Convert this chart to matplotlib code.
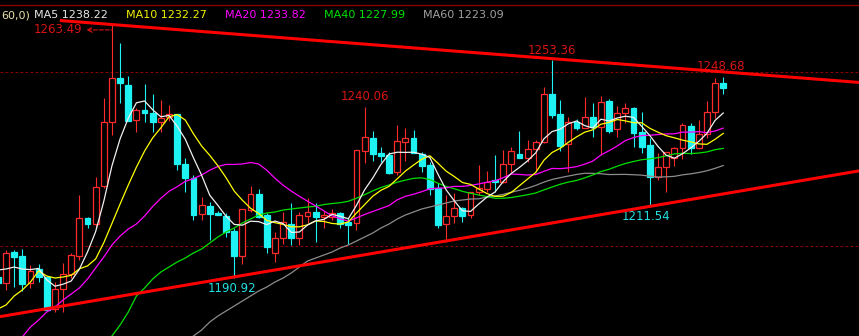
import matplotlib
matplotlib.use('Agg')
import matplotlib.pyplot as plt
from matplotlib.patches import Rectangle

nan = float('nan')

# daily candles, oldest first
opens = [1191.09, 1189.37, 1198.28, 1197.13, 1189.37, 1193.39, 1191.09, 1181.90, 1187.64, 1191.95,
         1197.13, 1208.04, 1206.32, 1217.24, 1235.63, 1248.28, 1246.26, 1236.21, 1239.08, 1238.22,
         1235.63, 1237.07, 1237.93, 1223.56, 1219.54, 1209.20, 1211.49, 1209.48, 1208.62, 1204.31,
         1197.13, 1210.35, 1214.94, 1208.91, 1197.99, 1202.30, 1206.32, 1202.30, 1208.62, 1209.77,
         1208.33, 1208.33, 1209.48, 1206.90, 1206.61, 1227.30, 1231.03, 1226.73, 1226.15, 1221.27,
         1229.89, 1231.03, 1226.44, 1223.28, 1216.67, 1206.32, 1208.62, 1210.92, 1208.91, 1215.52,
         1216.38, 1218.97, 1218.39, 1223.56, 1226.44, 1225.29, 1227.88, 1229.89, 1243.68, 1237.93,
         1229.31, 1235.63, 1233.91, 1237.07, 1234.19, 1241.67, 1233.62, 1238.22, 1239.65, 1232.76,
         1229.02, 1219.83, 1222.70, 1225.29, 1228.16, 1234.48, 1228.16, 1232.18, 1238.51, 1246.84]
highs = [1191.66, 1198.85, 1198.85, 1199.14, 1194.54, 1194.83, 1191.20, 1189.65, 1195.11, 1197.99,
         1214.65, 1208.33, 1219.83, 1242.53, 1263.49, 1258.33, 1248.85, 1239.65, 1246.55, 1243.68,
         1241.95, 1240.52, 1238.00, 1225.29, 1220.40, 1214.08, 1212.64, 1210.06, 1209.48, 1205.17,
         1210.70, 1217.24, 1216.38, 1209.48, 1204.02, 1209.77, 1212.36, 1209.77, 1213.79, 1212.36,
         1210.06, 1210.63, 1209.77, 1208.04, 1227.70, 1240.06, 1233.05, 1228.45, 1227.01, 1234.77,
         1233.91, 1233.33, 1227.01, 1224.14, 1218.10, 1214.65, 1215.23, 1211.21, 1215.60, 1223.28,
         1221.55, 1226.15, 1227.59, 1228.45, 1233.05, 1230.46, 1230.46, 1245.69, 1253.36, 1241.95,
         1237.07, 1236.49, 1242.82, 1241.09, 1243.10, 1242.24, 1240.23, 1241.09, 1239.94, 1238.51,
         1231.03, 1226.73, 1227.10, 1228.45, 1235.34, 1235.34, 1236.21, 1241.67, 1248.28, 1248.68]
lows = [1188.79, 1187.35, 1188.22, 1187.07, 1187.93, 1189.65, 1181.50, 1181.03, 1181.03, 1190.80,
        1195.98, 1205.17, 1205.17, 1216.67, 1231.90, 1241.09, 1235.80, 1232.76, 1235.63, 1232.76,
        1232.76, 1235.92, 1221.84, 1215.52, 1207.47, 1207.47, 1201.72, 1208.80, 1202.59, 1190.92,
        1194.83, 1209.77, 1208.04, 1197.99, 1195.40, 1200.57, 1200.29, 1200.29, 1206.61, 1201.15,
        1205.17, 1207.47, 1205.17, 1200.57, 1204.60, 1223.85, 1224.43, 1224.14, 1220.69, 1220.40,
        1224.43, 1226.60, 1221.27, 1214.65, 1205.17, 1201.15, 1206.61, 1206.90, 1208.04, 1214.65,
        1215.52, 1215.52, 1218.10, 1221.27, 1225.20, 1224.14, 1221.84, 1229.60, 1236.78, 1227.30,
        1221.27, 1233.33, 1233.80, 1231.32, 1226.15, 1232.47, 1231.32, 1235.34, 1228.45, 1226.73,
        1211.54, 1218.97, 1215.52, 1222.99, 1225.00, 1226.44, 1228.00, 1231.03, 1236.78, 1243.68]
closes = [1189.37, 1197.99, 1196.84, 1189.08, 1192.81, 1191.09, 1181.61, 1187.64, 1191.95, 1197.41,
          1208.04, 1206.32, 1216.95, 1235.63, 1248.28, 1246.84, 1235.92, 1239.08, 1238.22, 1235.63,
          1236.78, 1237.93, 1223.56, 1219.54, 1208.91, 1211.78, 1209.20, 1208.91, 1204.02, 1197.13,
          1210.63, 1214.94, 1208.33, 1199.71, 1202.30, 1206.90, 1202.30, 1208.91, 1209.77, 1208.33,
          1208.91, 1209.48, 1206.32, 1206.04, 1227.59, 1231.32, 1226.44, 1225.86, 1220.98, 1230.17,
          1231.03, 1226.73, 1222.99, 1216.38, 1206.04, 1208.62, 1210.92, 1208.62, 1215.52, 1216.67,
          1218.39, 1218.39, 1223.56, 1227.30, 1225.29, 1227.88, 1229.89, 1243.68, 1237.64, 1228.74,
          1235.63, 1233.91, 1237.07, 1234.19, 1241.38, 1233.05, 1238.22, 1239.65, 1232.47, 1228.45,
          1219.83, 1222.70, 1227.01, 1228.16, 1234.77, 1228.16, 1232.18, 1238.51, 1246.84, 1245.40]

# moving averages as shown on the chart (nan = below the visible window)
ma5 = [1193.10, 1193.39, 1193.96, 1193.39, 1193.22, 1193.56, 1190.29, 1188.45, 1189.02, 1189.94,
       1193.33, 1198.27, 1204.13, 1212.87, 1223.04, 1230.80, 1236.72, 1241.15, 1241.67, 1239.14,
       1237.13, 1237.53, 1234.42, 1230.69, 1225.34, 1220.34, 1214.60, 1211.67, 1208.56, 1206.21,
       1205.98, 1207.13, 1207.01, 1206.15, 1207.18, 1206.44, 1203.91, 1204.02, 1206.04, 1207.24,
       1207.64, 1209.08, 1208.56, 1207.82, 1211.67, 1216.15, 1219.54, 1223.45, 1226.44, 1226.95,
       1226.90, 1226.95, 1226.38, 1225.46, 1220.63, 1216.15, 1212.99, 1210.12, 1209.94, 1212.07,
       1214.02, 1215.52, 1218.51, 1220.86, 1222.59, 1224.48, 1226.78, 1230.81, 1232.88, 1233.57,
       1235.12, 1235.92, 1234.60, 1233.91, 1236.44, 1235.92, 1236.78, 1237.30, 1236.95, 1234.37,
       1231.72, 1228.62, 1226.09, 1225.23, 1226.49, 1228.16, 1230.06, 1232.36, 1236.09, 1238.22]
ma10 = [1181.90, 1183.05, 1185.63, 1187.36, 1189.65, 1192.82, 1191.38, 1190.80, 1191.09, 1191.58,
        1193.45, 1194.28, 1196.29, 1200.95, 1206.49, 1212.07, 1217.50, 1222.64, 1227.27, 1231.09,
        1233.97, 1237.13, 1237.79, 1236.18, 1232.24, 1228.74, 1226.06, 1223.05, 1219.63, 1215.78,
        1213.16, 1210.86, 1209.34, 1207.36, 1206.70, 1206.21, 1205.52, 1205.52, 1206.09, 1207.21,
        1207.04, 1206.49, 1206.29, 1206.93, 1209.46, 1211.90, 1214.31, 1216.01, 1217.13, 1219.31,
        1221.52, 1223.25, 1224.92, 1225.95, 1223.79, 1221.52, 1219.97, 1218.25, 1217.70, 1216.35,
        1215.09, 1214.25, 1214.31, 1215.40, 1217.33, 1219.25, 1221.15, 1224.66, 1226.87, 1228.08,
        1229.80, 1231.35, 1232.70, 1233.39, 1235.00, 1235.52, 1236.35, 1235.95, 1235.43, 1235.40,
        1233.82, 1232.70, 1231.70, 1231.09, 1230.43, 1229.94, 1229.34, 1229.22, 1230.66, 1232.36]
ma20 = [1165.80, 1168.68, 1171.55, 1173.85, 1176.72, 1178.73, 1181.03, 1182.47, 1184.48, 1186.21,
        1187.93, 1190.50, 1193.68, 1196.84, 1200.29, 1202.87, 1204.88, 1206.32, 1208.62, 1211.34,
        1213.71, 1215.71, 1217.04, 1218.57, 1219.37, 1220.41, 1221.78, 1222.85, 1223.45, 1223.44,
        1223.57, 1224.00, 1223.57, 1221.77, 1219.47, 1217.48, 1215.79, 1214.29, 1212.86, 1211.50,
        1210.10, 1208.68, 1207.82, 1207.15, 1208.08, 1209.06, 1209.92, 1210.77, 1211.61, 1213.26,
        1214.28, 1214.87, 1215.61, 1216.44, 1216.63, 1216.71, 1217.14, 1217.13, 1217.42, 1217.83,
        1218.31, 1218.75, 1219.62, 1220.68, 1220.56, 1220.39, 1220.56, 1221.46, 1222.29, 1222.22,
        1222.45, 1222.80, 1223.51, 1224.40, 1226.17, 1227.39, 1228.75, 1230.31, 1231.15, 1231.74,
        1231.81, 1232.03, 1232.20, 1232.24, 1232.72, 1232.73, 1232.85, 1232.59, 1233.05, 1233.88]
ma40 = [nan] * 13 + [
        1170.11, 1174.14, 1177.30, 1181.03, 1185.63, 1187.93, 1190.52,
        1192.53, 1193.96, 1195.40, 1196.55, 1197.99, 1199.14, 1200.86, 1202.59, 1204.02, 1205.17,
        1206.61, 1207.76, 1208.91, 1209.48, 1209.77, 1210.34, 1210.63, 1210.92, 1211.21, 1211.42,
        1211.91, 1212.20, 1212.43, 1212.86, 1213.73, 1214.74, 1215.85, 1216.81, 1217.53, 1218.35,
        1218.93, 1219.44, 1219.59, 1219.11, 1218.05, 1217.10, 1216.47, 1215.71, 1215.14, 1214.67,
        1214.21, 1213.72, 1213.72, 1213.92, 1214.32, 1214.73, 1215.24, 1216.12, 1216.95, 1217.74,
        1218.37, 1218.84, 1219.56, 1220.42, 1221.40, 1222.05, 1222.95, 1223.72, 1224.29, 1224.79,
        1225.06, 1225.39, 1225.91, 1226.46, 1226.64, 1226.56, 1226.71, 1227.03, 1227.67, 1228.05]
ma60 = [nan] * 23 + [
        1172.41, 1174.14, 1175.86, 1178.16, 1179.88, 1181.32, 1182.76,
        1184.19, 1185.63, 1187.07, 1188.22, 1189.65, 1190.80, 1192.24, 1193.96, 1195.69, 1196.55,
        1197.41, 1198.28, 1199.42, 1200.29, 1201.44, 1202.59, 1203.74, 1205.17, 1206.32, 1207.76,
        1208.91, 1209.77, 1210.63, 1211.21, 1211.78, 1212.36, 1212.93, 1213.22, 1213.50, 1213.56,
        1214.04, 1214.38, 1214.83, 1215.47, 1216.00, 1216.62, 1217.42, 1218.36, 1219.12, 1219.64,
        1220.10, 1220.56, 1220.90, 1220.87, 1220.76, 1220.53, 1220.56, 1220.58, 1220.48, 1220.36,
        1220.07, 1219.82, 1219.88, 1220.02, 1220.45, 1220.73, 1221.11, 1221.61, 1222.32, 1223.12]

ma_names = ['MA5', 'MA10', 'MA20', 'MA40', 'MA60']
ma_last = [1238.22, 1232.27, 1233.82, 1227.99, 1223.09]
ma_colors = ['#f0f0f0', '#ffff00', '#ff00ff', '#00e000', '#8c8c8c']
ma_text_colors = ['#e6e6e6', '#f0f000', '#ff00ff', '#00e000', '#a0a0a0']

# hand-drawn trend lines (candle index, price)
upper_x, upper_y = [7.6, 105.7], [1264.8, 1247.0]
lower_x, lower_y = [0.26, 105.7], [1179.7, 1221.6]

grid_levels = [1250, 1200]

W, H = 859, 336
fig = plt.figure(figsize=(W / 100, H / 100), dpi=100, facecolor='black')
ax = fig.add_axes([0, 0, 1, 1], facecolor='black')
ax.set_xlim(0.264, 105.66)
ax.set_ylim(1174.14, 1270.69)
ax.axis('off')

up_col = '#ff2a2a'
dn_col = '#1ef2f2'
dark_red = '#8b0000'

for lvl in grid_levels:
    ax.axhline(lvl, color=dark_red, lw=0.8, ls=(0, (2.5, 2.0)), zorder=1)
ax.plot([0, 1], [1 - 5 / H] * 2, transform=ax.transAxes, color=dark_red, lw=1.0)

for i, (o, h, l, c) in enumerate(zip(opens, highs, lows, closes)):
    up = c >= o
    col = up_col if up else dn_col
    ax.vlines(i, l, h, color=col, lw=0.8, zorder=2)
    body = max(abs(c - o), 0.2)
    ax.add_patch(Rectangle((i - 0.36, min(o, c)), 0.72, body,
                           facecolor='black' if up else dn_col,
                           edgecolor=col, lw=0.9, zorder=3))

idx = list(range(len(closes)))
for vals, col in zip([ma60, ma40, ma20, ma10, ma5], ma_colors[::-1]):
    ax.plot(idx, vals, color=col, lw=0.9, zorder=4)

ax.plot(upper_x, upper_y, color='#ff0000', lw=2.2, zorder=5, solid_capstyle='butt')
ax.plot(lower_x, lower_y, color='#ff0000', lw=2.2, zorder=5, solid_capstyle='butt')

# header
fs = 8
base = 1 - 18.5 / H
ax.text(1 / W, base, '60,0)', ha='left', va='baseline',
        color='#e8e2a8', fontsize=fs, transform=ax.transAxes)
head_x = [34, 126, 225, 324, 423]
for name, val, col, hx in zip(ma_names, ma_last, ma_text_colors, head_x):
    ax.text(hx / W, base, f'{name} {val:.2f}', ha='left', va='baseline',
            color=col, fontsize=fs, transform=ax.transAxes)

# high / low marks
lab_red = '#d81414'
lab_cyan = '#22e0e0'
ax.annotate('1263.49', xy=(14, 1262.1), xytext=(-21.5, 0), textcoords='offset points',
            ha='right', va='center', color=lab_red, fontsize=8.5,
            arrowprops=dict(arrowstyle='<-', color=lab_red, lw=0.8, ls='--',
                            shrinkA=1, shrinkB=0))
marks = [(45, highs[45], lab_red, 0, 7),
         (68, highs[68], lab_red, 0, 7),
         (89, highs[89], lab_red, -2, 7),
         (80, lows[80], lab_cyan, -2.5, -7.5),
         (29, lows[29], lab_cyan, -1.5, -7.5)]
for i, v, col, dx, dy in marks:
    ax.annotate(f'{v:.2f}', xy=(i, v), xytext=(dx, dy), textcoords='offset points',
                ha='center', va='center', color=col, fontsize=8.5)

fig.savefig('out.png', dpi=100, facecolor='black')
